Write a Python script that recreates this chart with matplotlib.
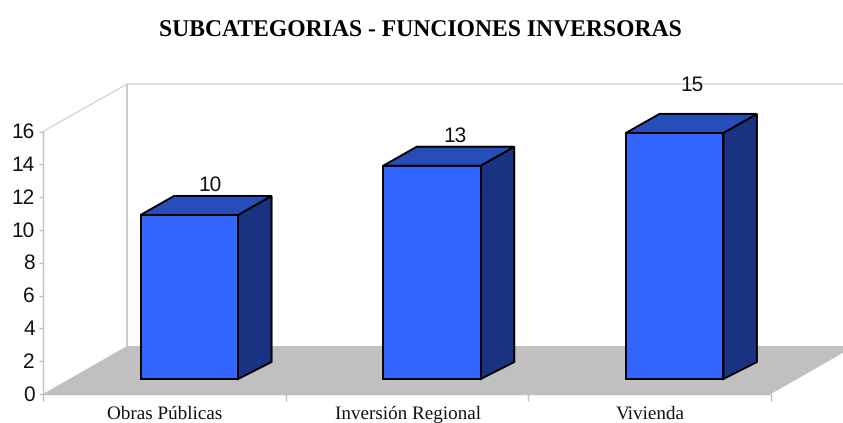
import matplotlib
matplotlib.use("Agg")
import matplotlib.pyplot as plt
from matplotlib.patches import Polygon
from matplotlib.transforms import ScaledTranslation

plt.rcParams["text.hinting"] = "no_hinting"

categories = ["Obras Públicas", "Inversión Regional", "Vivienda"]
values = [10, 13, 15]
y_ticks = [0, 2, 4, 6, 8, 10, 12, 14, 16]

W, H = 843, 423
# plot box in pixels
left, right, bottom, top = 43, 771, 394, 131.5

fig = plt.figure(figsize=(W / 100, H / 100), dpi=100)
ax = fig.add_axes([left / W, 1 - bottom / H, (right - left) / W, (bottom - top) / H])
ax.set_xlim(0, len(categories))
ax.set_ylim(0, 16)
ax.patch.set_visible(False)

# px to data helpers
px_x = len(categories) / (right - left)
px_y = 16 / (bottom - top)

wall_dx = 84 * px_x
wall_dy = 48 * px_y
grey = "#C0C0C0"

# floor and back walls
ax.add_patch(Polygon([(0, 0), (wall_dx, wall_dy), (3 + wall_dx, wall_dy), (3, 0)],
                     closed=True, facecolor=grey, edgecolor="none", clip_on=False, zorder=1))
ax.plot([wall_dx, wall_dx], [wall_dy, 16 + wall_dy * 0.99], color=grey, lw=1.2, clip_on=False, zorder=1)
ax.plot([wall_dx, 3 + wall_dx], [16 + wall_dy * 0.99] * 2, color="#D9D9D9", lw=1.2, clip_on=False, zorder=1)
ax.plot([0, wall_dx], [16, 16 + wall_dy * 0.99], color="#D0D0D0", lw=0.9, clip_on=False, zorder=1)

# bars
bar_w = 97.5 * px_x
bar_off = 25 * px_x
base = 15 * px_y
depth_x = 33.5 * px_x
depth_top = 19 * px_y
depth_bot = 17 * px_y
label_dx = [21, 23, 17]
label_dy = [29.5, 29.5, 47.5]

for i, v in enumerate(values):
    x0 = i + 0.5 + bar_off - bar_w / 2
    x1 = x0 + bar_w
    y1 = base + v
    ax.bar(x0, v, width=bar_w, bottom=base, align="edge", color="#3366FF",
           edgecolor="black", linewidth=1.4, zorder=4, clip_on=False)
    ax.add_patch(Polygon([(x1, base), (x1 + depth_x, base + depth_bot), (x1 + depth_x, y1 + depth_top), (x1, y1)],
                         closed=True, facecolor="#1A3380", edgecolor="black", lw=1.4, zorder=3, clip_on=False))
    ax.add_patch(Polygon([(x0, y1), (x0 + depth_x, y1 + depth_top), (x1 + depth_x, y1 + depth_top), (x1, y1)],
                         closed=True, facecolor="#264DB8", edgecolor="black", lw=1.4, zorder=3, clip_on=False))
    ax.annotate(str(v), xy=((x0 + x1) / 2, y1), xytext=(label_dx[i] * 0.72, label_dy[i] * 0.72),
                textcoords="offset points", ha="center", va="center", fontsize=15,
                family="Liberation Sans", color="#111111", zorder=5, annotation_clip=False)

# axes
for s in ["top", "right"]:
    ax.spines[s].set_visible(False)
for s in ["left", "bottom"]:
    ax.spines[s].set_color(grey)
    ax.spines[s].set_linewidth(1.0)
    ax.spines[s].set_zorder(2)

ax.set_yticks(y_ticks)
ax.set_yticklabels([str(t) for t in y_ticks], family="Liberation Sans", fontsize=15, color="#111111")
ax.tick_params(axis="y", length=3, width=1.0, color=grey, pad=3)
nudge = ScaledTranslation(0, 1.2 / 100, fig.dpi_scale_trans)
for lab in ax.get_yticklabels():
    lab.set_transform(lab.get_transform() + nudge)
ax.set_xticks(range(len(categories) + 1))
ax.set_xticklabels([])
ax.tick_params(axis="x", length=5, width=1.0, color=grey)

for i, c in enumerate(categories):
    ax.annotate(c, xy=(i + 0.5, 0), xytext=(0.5, -18.0), textcoords="offset points", ha="center",
                va="baseline", family="Liberation Serif", fontsize=13.8, color="#111111", annotation_clip=False)

fig.text(420.5 / W, 1 - 37 / H, "SUBCATEGORIAS - FUNCIONES INVERSORAS", ha="center", va="baseline",
         family="Liberation Serif", fontweight="bold", fontsize=17, color="black")

fig.savefig("out.png", dpi=100, facecolor="white")
